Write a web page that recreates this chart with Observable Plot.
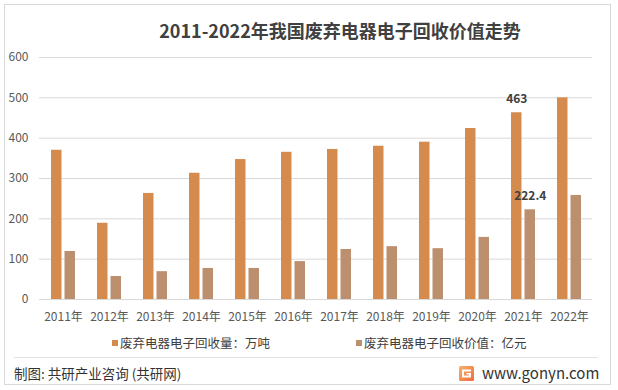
<!DOCTYPE html>
<html>
<head>
<meta charset="utf-8">
<script src="https://cdn.jsdelivr.net/npm/d3@7"></script>
<script src="https://cdn.jsdelivr.net/npm/@observablehq/plot@0.6"></script>
<style>
  html, body { margin: 0; padding: 0; background: #fff; }
  #wrap { position: relative; width: 618px; height: 390px; overflow: hidden; background: #fff;
          font-family: "Noto Sans CJK SC", "Noto Sans", sans-serif; }
  #frame { position: absolute; left: 4px; top: 4px; width: 605px; height: 379px; border: 1px solid #d9d9d9; }
  #title { position: absolute; left: 0; width: 680px; top: 17px; text-align: center; font-size: 18px;
           font-weight: bold; color: #404040; white-space: nowrap; line-height: 26px; }
  #chart { position: absolute; left: 0; top: 0; }
  .leg { position: absolute; top: 334px; font-size: 12.5px; color: #404040; white-space: nowrap; line-height: 18px; }
  .sw { display: inline-block; width: 6px; height: 6px; margin-right: 2px; vertical-align: 2px; }
  #sep { position: absolute; left: 14px; top: 357px; width: 584px; height: 1px; background: #e3e3e3; }
  #src { position: absolute; left: 14px; top: 363px; font-size: 13.5px; color: #333; white-space: nowrap; line-height: 20px; }
  #site { position: absolute; left: 459px; top: 363px; font-size: 15px; color: #333; white-space: nowrap; line-height: 20px; }
  #logo { display: inline-block; width: 15px; height: 15px; vertical-align: -2px; margin-right: 8px; }
</style>
</head>
<body>
<div id="wrap">
  <div id="frame"></div>
  <div id="title"></div>
  <div id="chart"></div>
  <div class="leg" id="leg1"></div>
  <div class="leg" id="leg2"></div>
  <div id="sep"></div>
  <div id="src"></div>
  <div id="site"></div>
</div>
<script>
const titleText = "2011-2022年我国废弃电器电子回收价值走势";
const years = ["2011年","2012年","2013年","2014年","2015年","2016年","2017年","2018年","2019年","2020年","2021年","2022年"];
const volume = [370, 189, 263, 313, 347, 365, 372, 380, 390, 424, 463, 500];
const value = [119, 57, 69, 77, 77, 94, 124, 131, 126, 154, 222.4, 258];
const seriesNames = ["废弃电器电子回收量：万吨", "废弃电器电子回收价值：亿元"];
const yTicks = [0, 100, 200, 300, 400, 500, 600];
const labeledYear = "2021年";
const sourceText = "制图: 共研产业咨询 (共研网)";
const siteText = "www.gonyn.com";

const orange = "#d58b4e";
const brown = "#bc8f6e";
const font = "'Noto Sans CJK SC', 'Noto Sans', sans-serif";

const rows = years.map((year, i) => ({year, volume: volume[i], value: value[i]}));
const labelRows = rows.filter(d => d.year === labeledYear);

const chart = Plot.plot({
  width: 618,
  height: 335,
  marginLeft: 39,
  marginRight: 26,
  marginTop: 57,
  marginBottom: 36,
  style: {fontFamily: font, fontSize: "12px", color: "#595959", background: "transparent"},
  x: {domain: years, paddingInner: 0.48, paddingOuter: 0.24, label: null},
  y: {domain: [0, 600], label: null},
  marks: [
    Plot.ruleY(yTicks, {stroke: "#d9d9d9", strokeWidth: 1}),
    Plot.axisY({ticks: yTicks, tickSize: 0, tickPadding: 11, label: null, fontSize: 12, fill: "#595959"}),
    Plot.axisX({tickSize: 0, tickPadding: 13, label: null, fontSize: 12, fill: "#595959"}),
    Plot.barY(rows, {x: "year", y: "volume", fill: orange, insetRight: 13.5}),
    Plot.barY(rows, {x: "year", y: "value", fill: brown, insetLeft: 13.5}),
    Plot.text(labelRows, {x: "year", y: "volume", text: d => String(d.volume), dx: -6.75, dy: -14,
      fontSize: 12, fontWeight: "bold", fill: "#404040"}),
    Plot.text(labelRows, {x: "year", y: "value", text: d => String(d.value), dx: 6.75, dy: -14,
      fontSize: 12, fontWeight: "bold", fill: "#404040"})
  ]
});
document.getElementById("chart").appendChild(chart);

document.getElementById("title").textContent = titleText;

function legendItem(el, color, label, left) {
  el.style.left = left + "px";
  const sw = document.createElement("span");
  sw.className = "sw";
  sw.style.background = color;
  el.appendChild(sw);
  el.appendChild(document.createTextNode(label));
}
legendItem(document.getElementById("leg1"), orange, seriesNames[0], 112);
legendItem(document.getElementById("leg2"), brown, seriesNames[1], 356);

document.getElementById("src").textContent = sourceText;

const site = document.getElementById("site");
site.innerHTML = '<svg id="logo" viewBox="0 0 15 15"><defs><linearGradient id="lg" x1="0" y1="0" x2="1" y2="1">' +
  '<stop offset="0" stop-color="#f7b267"/><stop offset="1" stop-color="#f06a3a"/></linearGradient></defs>' +
  '<rect x="0" y="0" width="15" height="15" rx="1.5" fill="url(#lg)"/>' +
  '<path d="M3 3.5 H12 V5.5 H5 V9.5 H10 V8.5 H7.5 V7 H12 V11.5 H3 Z" fill="#fff"/></svg>';
site.appendChild(document.createTextNode(siteText));
</script>
</body>
</html>
